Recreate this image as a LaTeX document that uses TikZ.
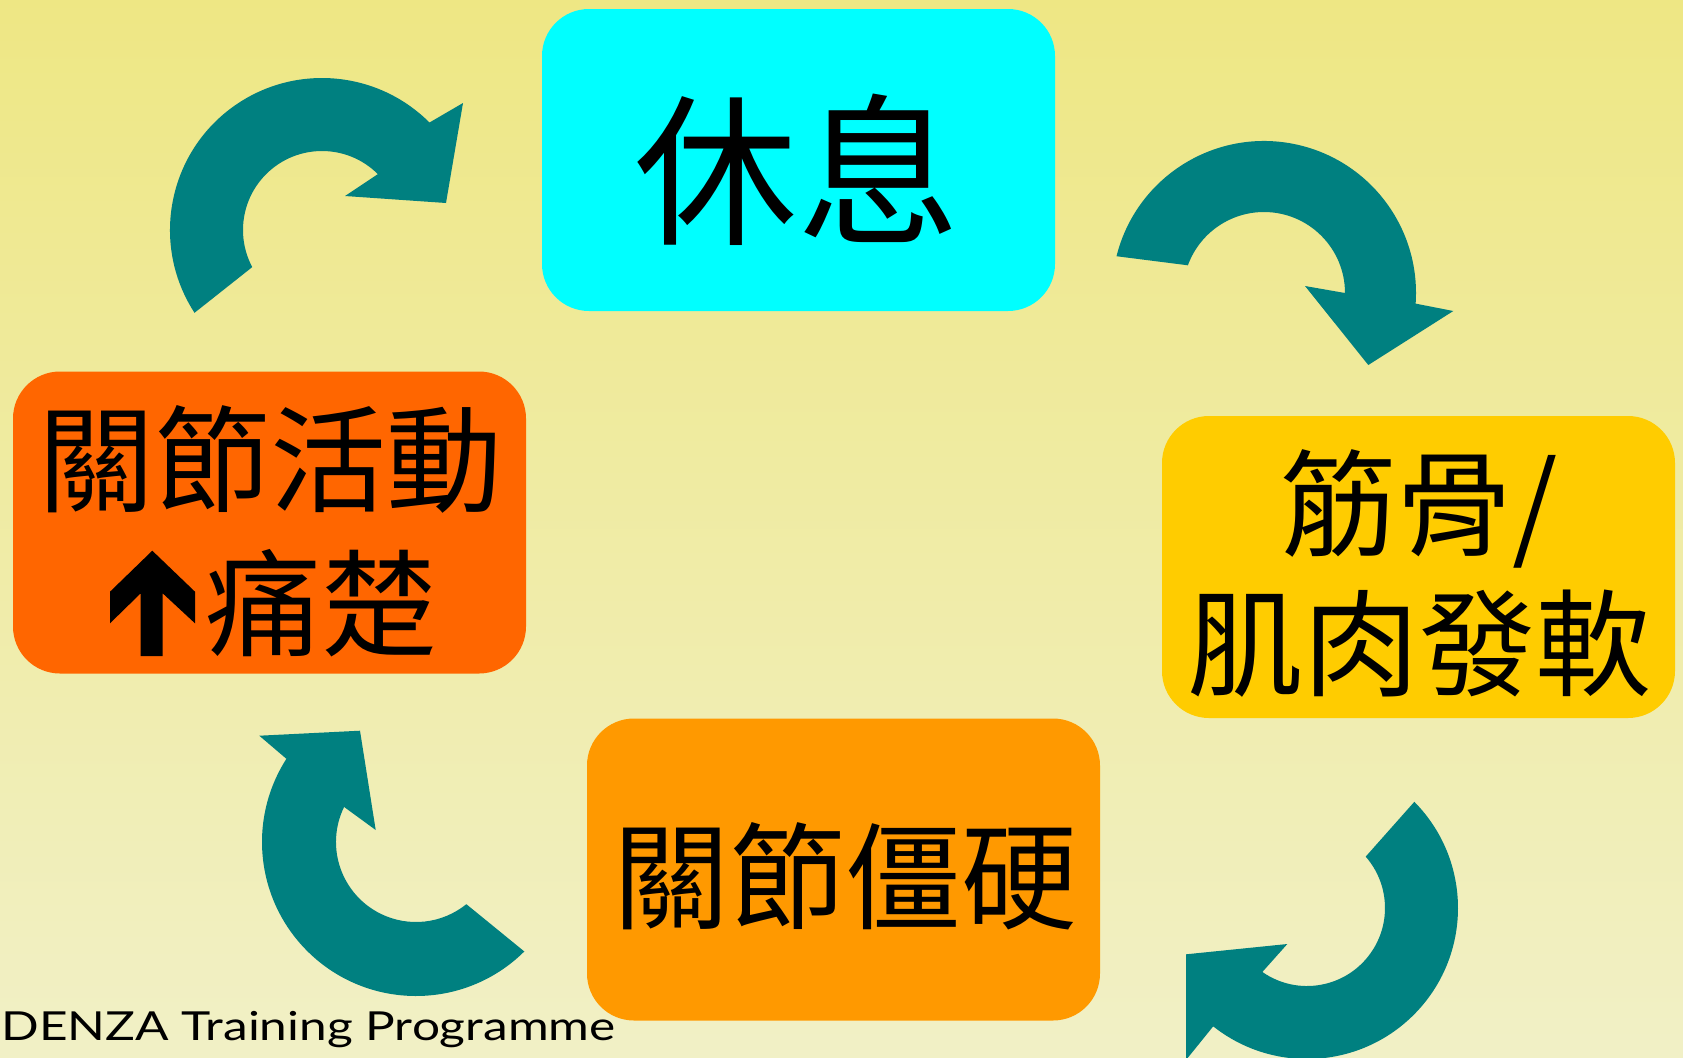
\documentclass[tikz,border=0pt]{standalone}
\usepackage{fontspec}
\usepackage{graphicx}
\newfontfamily\cjk{Noto Sans CJK TC}
\newfontfamily\hand{Lato}
\usetikzlibrary{calc}
\definecolor{bgtop}{HTML}{EEE784}
\definecolor{bgmid}{HTML}{F1EEA6}
\definecolor{bgbot}{HTML}{F1F0C6}
\definecolor{arrowteal}{HTML}{008080}
\definecolor{restcol}{HTML}{00FFFF}
\definecolor{paincol}{HTML}{FF6600}
\definecolor{weakcol}{HTML}{FFCC00}
\definecolor{stiffcol}{HTML}{FF9900}
\begin{document}
\begin{tikzpicture}[x=0.5pt,y=-0.5pt,
  box/.style={rectangle, rounded corners=23.5pt, minimum width=256.5pt, minimum height=151pt, inner sep=0pt, draw=none},
  cyctext/.style={font=\cjk\fontsize{58pt}{70pt}\selectfont, inner sep=0pt, align=center, text=black},
  cycarrow/.style={fill=arrowteal}]
\useasboundingbox (0,0) rectangle (1683,1057);
\clip (0,0) rectangle (1683,1057);
\shade[top color=bgtop, middle color=bgmid, bottom color=bgbot] (0,0) rectangle (1683,1057);

% circular arrows
\coordinate (c1) at (322,230);
\fill[cycarrow] ($(c1)+(147:152)$) arc[start angle=147,end angle=315,radius=152]
  -- (463,103) -- (446,203) -- (345,196)
  -- ($(c1)+(315:79)$) arc[start angle=315,end angle=152,radius=79] -- cycle;

\coordinate (c2) at (1264,293);
\fill[cycarrow] ($(c2)+(194:152)$) arc[start angle=194,end angle=364,radius=152]
  -- (1453.3,311) -- (1368.3,365) -- (1305,286)
  -- ($(c2)+(360:81)$) arc[start angle=360,end angle=200,radius=81] -- cycle;

\coordinate (c3) at (416,842);
\fill[cycarrow] ($(c3)+(45.3:154)$) arc[start angle=45.3,end angle=212.7,radius=154]
  -- (259.3,735.7) -- (360,730.7) -- (375.7,830)
  -- ($(c3)+(206:80)$) arc[start angle=206,end angle=51,radius=80] -- cycle;

\coordinate (c4) at (1307,908);
\fill[cycarrow] ($(c4)+(315.3:151)$) arc[start angle=315.3,end angle=488.4,radius=151]
  -- (1186,1060) -- (1186,954.3) -- (1287.3,944)
  -- ($(c4)+(484.9:78)$) arc[start angle=484.9,end angle=318.8,radius=78] -- cycle;

% boxes
\node[box, fill=restcol] (rest) at (798.5,160) {};
\node[box, fill=paincol] (pain) at (269.5,522.5) {};
\node[box, fill=weakcol] (weak) at (1418.5,567) {};
\node[box, fill=stiffcol] (stiff) at (843.5,869.5) {};

% labels
\node[cyctext, font=\cjk\fontsize{81.5pt}{90pt}\selectfont] (restlabel) at (797,170) {休息};
\node[cyctext] (painlabelA) at (271,459) {關節活動};
\node[cyctext] (painlabelB) at (321,603) {痛楚};
\fill[black] (152.3,550.7) -- (110,591.7) -- (110,623.3) -- (140.7,593.3) -- (140.7,656)
  -- (162.7,656) -- (162.7,593.3) -- (195,623.3) -- (195,591.7) -- cycle;
\node[cyctext] (weaklabel) at (1419,573) {筋骨/\\肌肉發軟};
\node[cyctext] (stifflabel) at (845,876) {關節僵硬};

\node[anchor=base east, inner sep=0pt, font=\hand\fontsize{20pt}{24pt}\selectfont] (credit) at (616,1040)
  {\resizebox{307pt}{\height}{\llap{CA\kern0.02em}DENZA Training Programme}};
\end{tikzpicture}
\end{document}
